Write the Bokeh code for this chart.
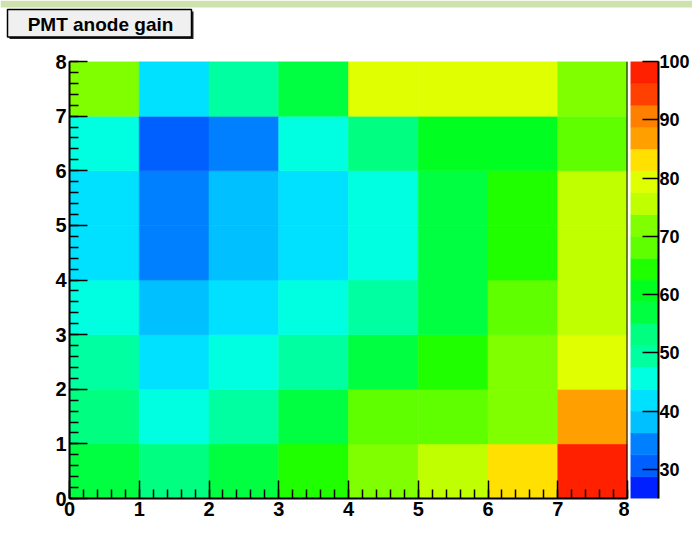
import numpy as np
from bokeh.plotting import figure
from bokeh.models import (Range1d, SingleIntervalTicker, FixedTicker, LinearColorMapper,
                          Span, ColumnDataSource)
from bokeh.layouts import column, row
from bokeh.embed import file_html
from bokeh.resources import INLINE
from bokeh.core.properties import value

# ---------------- data ----------------
title_text = "PMT anode gain"
x_bins = [0, 1, 2, 3, 4, 5, 6, 7]
y_bins = [0, 1, 2, 3, 4, 5, 6, 7]
# gain per cell, one list per row (row 0 = bottom)
gain_row0 = [57.0, 53.0, 57.0, 64.5, 72.0, 75.5, 83.0, 99.0]
gain_row1 = [53.0, 45.5, 49.5, 57.0, 68.0, 68.0, 72.0, 87.0]
gain_row2 = [49.5, 42.0, 45.5, 49.5, 57.0, 64.5, 72.0, 79.5]
gain_row3 = [45.5, 38.0, 42.0, 45.5, 49.5, 57.0, 68.0, 75.5]
gain_row4 = [42.0, 34.5, 38.0, 42.0, 45.5, 57.0, 64.5, 75.5]
gain_row5 = [42.0, 34.5, 38.0, 42.0, 45.5, 57.0, 64.5, 75.5]
gain_row6 = [45.5, 31.0, 34.5, 45.5, 53.0, 60.5, 60.5, 68.0]
gain_row7 = [72.0, 42.0, 49.5, 57.0, 79.5, 79.5, 79.5, 72.0]
gain_rows = [gain_row0, gain_row1, gain_row2, gain_row3,
             gain_row4, gain_row5, gain_row6, gain_row7]
z_low, z_high = 25.0, 100.0
palette_ticks = [30, 40, 50, 60, 70, 80, 90, 100]
palette = ["#0020FF", "#0060FF", "#0080FF", "#00C0FF", "#00E0FF",
           "#00FFE0", "#00FFA0", "#00FF80", "#00FF40", "#00FF20",
           "#20FF00", "#60FF00", "#80FF00", "#C0FF00", "#E0FF00",
           "#FFE000", "#FFA000", "#FF8000", "#FF4000", "#FF2000"]

# ---------------- build sources ----------------
cx, cy, cz = [], [], []
for yi, rowvals in zip(y_bins, gain_rows):
    for xi, v in zip(x_bins, rowvals):
        cx.append(xi + 0.5)
        cy.append(yi + 0.5)
        cz.append(v)
src = ColumnDataSource(dict(x=cx, y=cy, z=cz))
mapper = LinearColorMapper(palette=palette, low=z_low, high=z_high)

FONT = "Liberation Sans"
HDR = 40

# ---------------- header (page strip + title box) ----------------
# header uses a pixel-like coordinate system (y pointing down)
header = figure(width=692, height=HDR, toolbar_location=None, output_backend="svg",
                min_border=0, x_axis_location=None, y_axis_location=None,
                outline_line_color=None, background_fill_color="white",
                border_fill_color="white", x_range=Range1d(0, 692), y_range=Range1d(HDR, 0))
header.grid.visible = False
header.quad(left=0, right=692, top=0, bottom=7, fill_color="#cde2ad", line_color=None)
header.quad(left=9, right=193, top=11, bottom=38.5, fill_color="#222222", line_color=None)
header.quad(left=7, right=191, top=9, bottom=36.5, fill_color="#f0f0f0",
            line_color="black", line_width=1.5)
header.text(x=[100], y=[23.5], text=[title_text], text_font=value(FONT),
            text_font_style="bold", text_font_size="19px", text_color="black",
            text_align="center", text_baseline="middle")

# ---------------- main plot ----------------
H = 549 - HDR
TOP = 61 - HDR
p1 = figure(width=629, height=H, x_range=Range1d(0, 8), y_range=Range1d(0, 8),
            toolbar_location=None, output_backend="svg",
            min_border_left=69, min_border_right=2, min_border_top=TOP, min_border_bottom=51,
            outline_line_color=None, background_fill_color="white", border_fill_color="white")
p1.grid.visible = False
p1.rect(x="x", y="y", width=1, height=1, source=src,
        fill_color={"field": "z", "transform": mapper},
        line_color={"field": "z", "transform": mapper}, line_width=0.6)

for ax in (p1.xaxis[0], p1.yaxis[0]):
    ax.ticker = SingleIntervalTicker(interval=1, num_minor_ticks=5)
    ax.major_tick_in = 18
    ax.major_tick_out = 0
    ax.minor_tick_in = 9
    ax.minor_tick_out = 0
    ax.axis_line_width = 2
    ax.major_tick_line_width = 1.5
    ax.minor_tick_line_width = 1.5
    ax.axis_line_color = "black"
    ax.major_tick_line_color = "black"
    ax.minor_tick_line_color = "black"
    ax.major_label_text_font = FONT
    ax.major_label_text_font_style = "bold"
    ax.major_label_text_font_size = "20px"
    ax.major_label_text_color = "black"
    ax.major_label_standoff = 3

p1.add_layout(Span(location=8, dimension="height", line_color="black", line_width=2))

# ---------------- palette ----------------
edges = np.linspace(z_low, z_high, len(palette) + 1)
p2 = figure(width=63, height=H, x_range=Range1d(0, 1), y_range=Range1d(z_low, z_high),
            toolbar_location=None, output_backend="svg",
            min_border_left=1, min_border_right=32, min_border_top=TOP, min_border_bottom=51,
            x_axis_location=None, y_axis_location="right",
            outline_line_color=None, background_fill_color="white", border_fill_color="white")
p2.grid.visible = False
p2.quad(left=0, right=1, bottom=edges[:-1], top=edges[1:],
        fill_color=palette, line_color=palette, line_width=0.6)
pax = p2.yaxis[0]
pax.ticker = FixedTicker(ticks=palette_ticks, minor_ticks=[])
pax.major_tick_in = 16
pax.major_tick_out = 0
pax.minor_tick_in = 0
pax.minor_tick_out = 0
pax.axis_line_width = 2
pax.major_tick_line_width = 1.5
pax.major_label_text_font = FONT
pax.major_label_text_font_style = "bold"
pax.major_label_text_font_size = "18px"
pax.major_label_text_color = "black"
pax.major_label_standoff = 1

layout = column(header, row(p1, p2, spacing=0), spacing=0)
open("out.html", "w").write(file_html(layout, INLINE))
